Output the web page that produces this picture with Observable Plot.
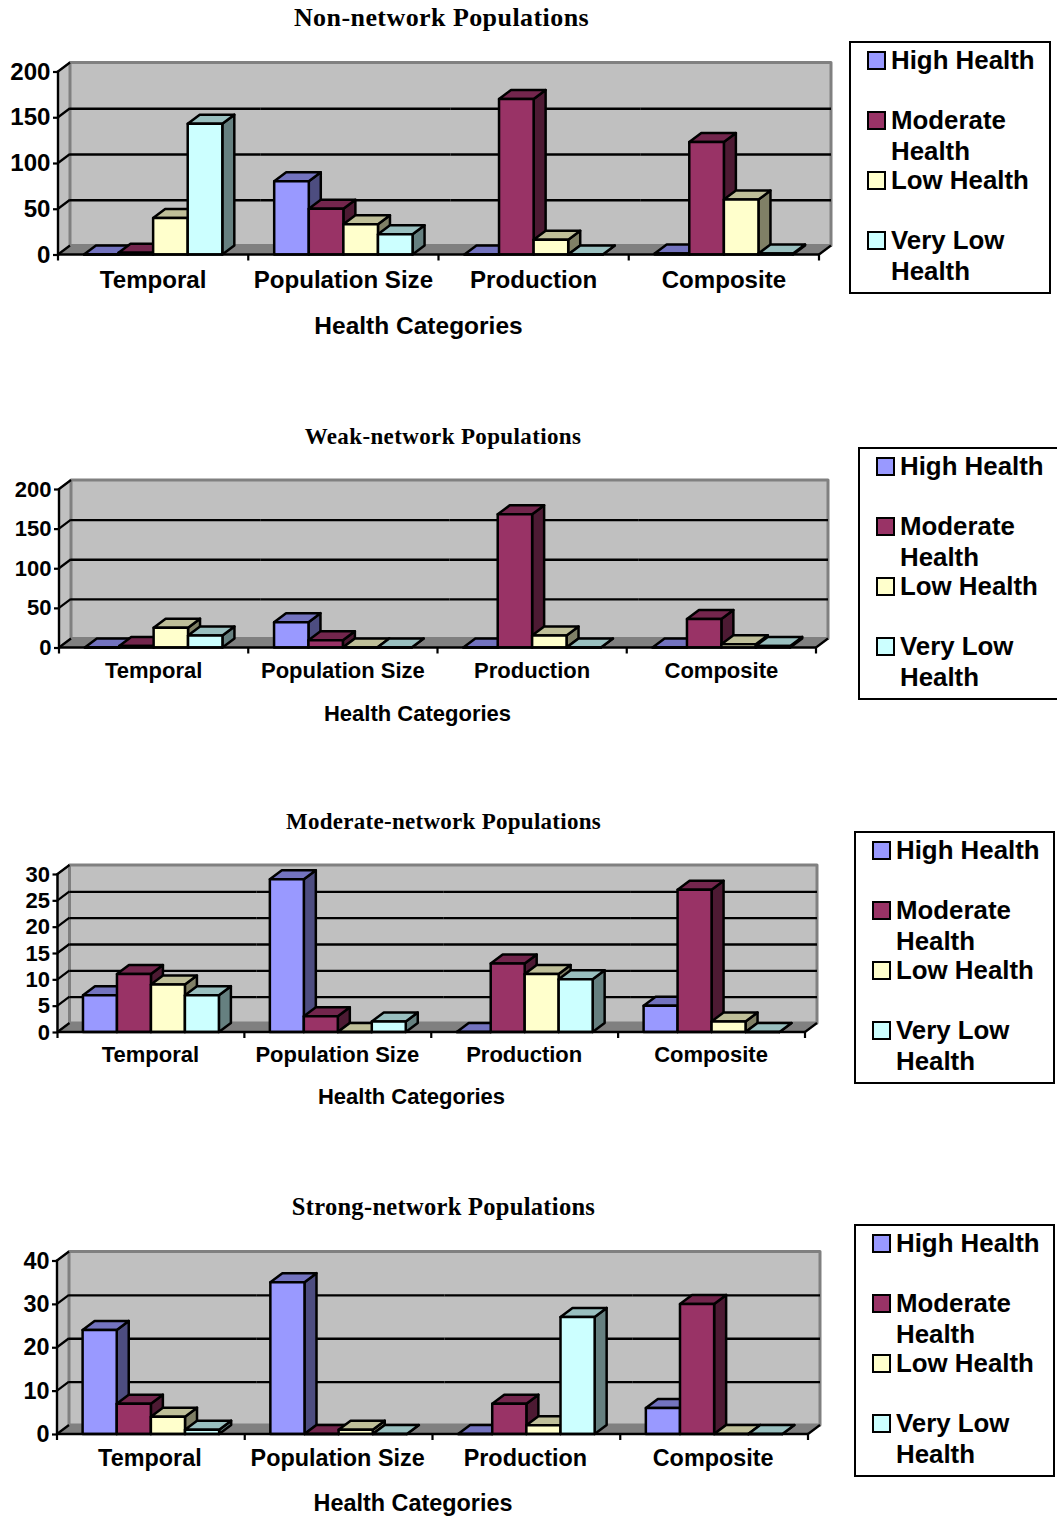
<!DOCTYPE html>
<html>
<head>
<meta charset="utf-8">
<script src="https://cdn.jsdelivr.net/npm/d3@7"></script>
<script src="https://cdn.jsdelivr.net/npm/@observablehq/plot@0.6"></script>
<style>
html,body{margin:0;padding:0;background:#fff;}
#page{position:relative;width:1057px;height:1516px;overflow:hidden;font-family:"Liberation Sans",Arial,sans-serif;color:#000;}
.t{position:absolute;white-space:nowrap;transform:translate(-50%,-50%);font-family:"Liberation Serif",serif;font-weight:bold;line-height:1;}
.plot{position:absolute;left:0;}
.legend{position:absolute;box-sizing:border-box;border:2px solid #000;background:#fff;}
.row{position:absolute;left:40px;font-weight:bold;font-size:25.85px;line-height:31px;white-space:nowrap;}
.sw{position:absolute;left:16px;width:19px;height:19px;box-sizing:border-box;border:2.5px solid #000;}
</style>
</head>
<body>
<div id="page"></div>
<script>
const categories = ["Temporal", "Population Size", "Production", "Composite"];
const series = ["High Health", "Moderate Health", "Low Health", "Very Low Health"];
const seriesColors = ["#9999ff", "#993366", "#ffffcc", "#ccffff"];
const legendLines = [["High Health"], ["Moderate", "Health"], ["Low Health"], ["Very Low", "Health"]];

// values: one row per category, one column per series
const nonNetwork = [[0, 2, 40, 143], [80, 50, 33, 22], [0, 170, 16, 0], [1, 123, 60, 1]];
const weakNetwork = [[0, 2, 25, 15], [32, 9, 0, 0], [0, 168, 15, 0], [0, 36, 4, 2]];
const moderateNetwork = [[7, 11, 9, 7], [29, 3, 0, 2], [0, 13, 11, 10], [5, 27, 2, 0]];
const strongNetwork = [[24, 7, 4, 1], [35, 0, 1, 0], [0, 7, 2, 27], [6, 30, 0, 0]];

const ticks200 = [0, 50, 100, 150, 200];
const ticks30 = [0, 5, 10, 15, 20, 25, 30];
const ticks40 = [0, 10, 20, 30, 40];

const panels = [
  {title: "Non-network Populations", values: nonNetwork, ticks: ticks200,
   titleX: 441.5, titleY: 18, titleSize: 26, titleGap: 0.43, top: 30, left: 58, right: 819, y0: 254.5, yMax: 71.5, font: 24.1, axisFont: 24.5, axisX: 418, axisY: 326, catY: 282, catDx: -0.5,
   legend: {x: 849, y: 41, w: 202, h: 253}},
  {title: "Weak-network Populations", values: weakNetwork, ticks: ticks200,
   titleX: 443, titleY: 435.5, titleSize: 23, titleGap: 0.37, top: 460, left: 59, right: 816, y0: 647.5, yMax: 489, font: 22, axisFont: 22, axisX: 417, axisY: 713.5, catY: 672.5, catDx: -0.5,
   legend: {x: 858, y: 447, w: 201, h: 253}},
  {title: "Moderate-network Populations", values: moderateNetwork, ticks: ticks30,
   titleX: 443.5, titleY: 820.5, titleSize: 23, titleGap: 0.28, top: 845, left: 57.5, right: 805, y0: 1032, yMax: 874, font: 22, axisFont: 22, axisX: 411, axisY: 1096.5, catY: 1057, catDx: -1,
   legend: {x: 854, y: 831, w: 201, h: 253}},
  {title: "Strong-network Populations", values: strongNetwork, ticks: ticks40,
   titleX: 443.5, titleY: 1207, titleSize: 24.5, titleGap: 0.3, top: 1230, left: 57, right: 808, y0: 1434, yMax: 1260.5, font: 23.4, axisFont: 23.4, axisX: 412.5, axisY: 1503, catY: 1460.5, catDx: -1.5,
   legend: {x: 854, y: 1224, w: 201, h: 253}}
];

const depthX = 12, depthY = -9;
const wall = "#c0c0c0", wallEdge = "#808080", floorFill = "#808080";
const edge = 2.5;

function shade(c, k) {
  const r = d3.rgb(c);
  return d3.rgb(r.r * k, r.g * k, r.b * k).formatHex();
}
function poly(g, pts, fill, stroke, sw) {
  g.append("polygon").attr("points", pts.map(p => p.join(",")).join(" "))
    .attr("fill", fill).attr("stroke", stroke).attr("stroke-width", sw).attr("stroke-linejoin", "round");
}
function segment(g, a, b, stroke, sw) {
  g.append("line").attr("x1", a[0]).attr("y1", a[1]).attr("x2", b[0]).attr("y2", b[1])
    .attr("stroke", stroke).attr("stroke-width", sw);
}

function draw(panel) {
  const rows = [];
  categories.forEach((category, c) => series.forEach((s, k) =>
    rows.push({category, series: s, value: panel.values[c][k]})));
  const domainMax = panel.ticks[panel.ticks.length - 1];
  const width = Math.ceil(panel.right) + 30, height = 340;

  const walls = (index, scales, values, d) => {
    const g = d3.create("svg:g");
    const L = d.marginLeft, R = d.width - d.marginRight, B = d.height - d.marginBottom, T = d.marginTop;
    poly(g, [[L, T], [L + depthX, T + depthY], [L + depthX, B + depthY], [L, B]], wall, wallEdge, 2);
    poly(g, [[L, B], [L + depthX, B + depthY], [R + depthX, B + depthY], [R, B]], floorFill, floorFill, 1);
    poly(g, [[L + depthX, T + depthY], [R + depthX, T + depthY], [R + depthX, B + depthY], [L + depthX, B + depthY]], wall, wallEdge, 3);
    return g.node();
  };
  const frontAxes = (index, scales, values, d) => {
    const g = d3.create("svg:g");
    const L = d.marginLeft, R = d.width - d.marginRight, B = d.height - d.marginBottom, T = d.marginTop;
    for (const t of panel.ticks) {
      const y = scales.y(t);
      segment(g, [L, y], [L + depthX, y + depthY], "#000", 2.2);
    }
    segment(g, [R, B], [R + depthX, B + depthY], "#000", 2.2);
    segment(g, [L, T - 1], [L, B + 1], "#000", 2.4);
    segment(g, [L, B], [R, B], "#000", 2.6);
    for (const c of categories) {
      const x = scales.fx(c);
      segment(g, [x, B], [x, B + 6], "#000", 2.2);
    }
    segment(g, [R, B], [R, B + 6], "#000", 2.2);
    return g.node();
  };
  const bar3d = (index, scales, values) => {
    const g = d3.create("svg:g");
    const w = scales.x.bandwidth();
    for (const i of index) {
      const x = values.x[i], top = Math.min(values.y1[i], values.y2[i]), base = Math.max(values.y1[i], values.y2[i]);
      const c = values.fill[i];
      poly(g, [[x + w, top], [x + w + depthX, top + depthY], [x + w + depthX, base + depthY], [x + w, base]], shade(c, 0.5), "#000", edge);
      poly(g, [[x, top], [x + depthX, top + depthY], [x + w + depthX, top + depthY], [x + w, top]], shade(c, 0.75), "#000", edge);
      poly(g, [[x, top], [x + w, top], [x + w, base], [x, base]], c, "#000", edge);
    }
    return g.node();
  };

  const chart = Plot.plot({
    width, height,
    marginLeft: panel.left,
    marginRight: width - panel.right,
    marginTop: panel.yMax - panel.top,
    marginBottom: height - (panel.y0 - panel.top),
    style: {fontFamily: "'Liberation Sans', Arial, sans-serif", color: "#000", background: "transparent", overflow: "visible"},
    fx: {domain: categories, padding: 0, round: false, label: null},
    x: {domain: series, paddingInner: 0, paddingOuter: 0.75, round: false, axis: null},
    y: {domain: [0, domainMax], axis: null},
    color: {domain: series, range: seriesColors},
    marks: [
      Plot.frame({facet: "super", stroke: "none", render: walls}),
      Plot.ruleY(panel.ticks.slice(1, -1), {dx: depthX, dy: depthY, stroke: "#000", strokeWidth: 2.4}),
      Plot.barY(rows, {fx: "category", x: "series", y: "value", fill: "series", render: bar3d}),
      Plot.frame({facet: "super", stroke: "none", render: frontAxes}),
      Plot.axisY({ticks: panel.ticks, anchor: "left", tickSize: 5, tickPadding: 3, strokeWidth: 2.2, fontSize: panel.font, fontWeight: "bold", label: null, tickFormat: d => String(d)}),
      Plot.axisFx({anchor: "bottom", tickSize: 0, tickPadding: panel.catY - panel.y0 - panel.font * 0.5, dx: panel.catDx, fontSize: panel.font, fontWeight: "bold", label: null}),
      Plot.text(["Health Categories"], {facet: "super", frameAnchor: "bottom", lineAnchor: "middle",
        dx: panel.axisX - (panel.left + panel.right) / 2, dy: panel.axisY - panel.y0,
        fontSize: panel.axisFont, fontWeight: "bold", fill: "#000"})
    ]
  });

  const page = document.getElementById("page");
  const holder = document.createElement("div");
  holder.className = "plot";
  holder.style.top = panel.top + "px";
  holder.appendChild(chart);
  page.appendChild(holder);

  const title = document.createElement("div");
  title.className = "t";
  title.textContent = panel.title;
  title.style.left = panel.titleX + "px";
  title.style.top = panel.titleY + "px";
  title.style.fontSize = panel.titleSize + "px";
  title.style.letterSpacing = panel.titleGap + "px";
  page.appendChild(title);

  const box = document.createElement("div");
  box.className = "legend";
  Object.assign(box.style, {left: panel.legend.x + "px", top: panel.legend.y + "px", width: panel.legend.w + "px", height: panel.legend.h + "px"});
  legendLines.forEach((lines, k) => {
    const rowTop = 2 + k * 60;
    const sw = document.createElement("div");
    sw.className = "sw";
    sw.style.top = (rowTop + 6) + "px";
    sw.style.background = seriesColors[k];
    box.appendChild(sw);
    lines.forEach((line, j) => {
      const r = document.createElement("div");
      r.className = "row";
      r.style.top = (rowTop + j * 31) + "px";
      r.textContent = line;
      box.appendChild(r);
    });
  });
  page.appendChild(box);
}
panels.forEach(draw);
</script>
</body>
</html>
